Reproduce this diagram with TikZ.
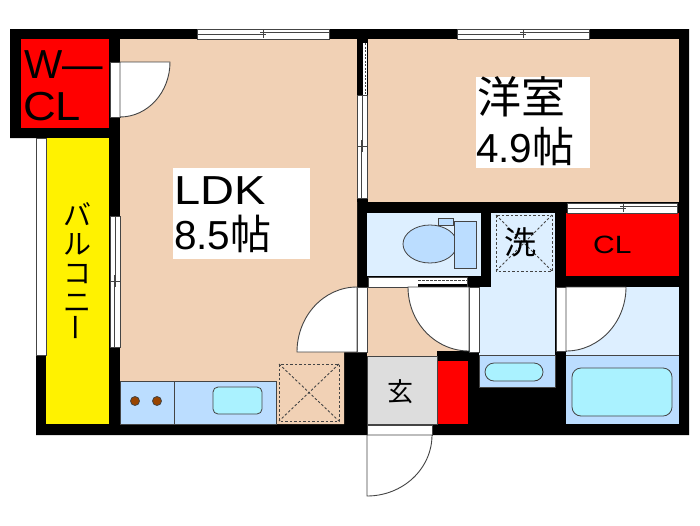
\documentclass[tikz,border=0pt]{standalone}
\usepackage{fontspec}
\setmainfont{Liberation Sans}
\newfontfamily\jpfont{Noto Sans CJK JP}

\definecolor{floorpeach}{HTML}{F1D1B5}
\definecolor{wetpale}{HTML}{DDEFFF}
\definecolor{wetblue}{HTML}{BBDDFF}
\definecolor{tubcyan}{HTML}{AAF2FF}
\definecolor{hallgray}{HTML}{DDDDDD}
\definecolor{burnerbrown}{HTML}{994400}
\definecolor{edgegray}{HTML}{444444}

\tikzset{
  wall/.style={fill=black, draw=none},
  room/.style={fill=#1, draw=none},
  fixture/.style={fill=#1, draw=edgegray, line width=0.8pt},
  leaf/.style={fill=white, draw=edgegray, line width=0.9pt},
  pane/.style={fill=white, draw=edgegray, line width=0.8pt},
  sash/.style={draw=edgegray, line width=0.7pt},
  spot/.style={draw=edgegray, line width=0.9pt, dashed, dash pattern=on 2.5pt off 2pt},
  biglabel/.style={inner sep=0pt, anchor=base west, font=\fontsize{40.5}{40.5}\selectfont},
}

% x1 x2 y1 y2 tick
\newcommand{\hslide}[5]{
  \draw[pane] (#1,#3) rectangle (#2,#4);
  \draw[sash] (#1,{#3+5}) -- ({#5+3},{#3+5}) ({#5-3},{#3+3.5}) -- (#2,{#3+3.5});
  \draw[sash] (#5,{#3+1}) -- (#5,{#4-1});
}
% x1 x2 y1 y2 tick
\newcommand{\vslide}[5]{
  \draw[pane] (#1,#3) rectangle (#2,#4);
  \draw[sash] ({#1+5.5},#3) -- ({#1+5.5},{#5+6}) ({#1+4},{#5-6}) -- ({#1+4},#4);
  \draw[sash] (#1,#5) -- (#2,#5);
}

\begin{document}
\begin{tikzpicture}[x=1pt, y=-1pt]
\useasboundingbox[fill=white] (0,0) rectangle (700,525);

% walls
\fill[wall] (10,29) -- (689,29) -- (689,435) -- (36,435) -- (36,138) -- (10,138) -- cycle;

% rooms
\fill[room=floorpeach] (120,39) -- (357,39) -- (357,352) -- (344,352) -- (344,424) -- (276,424) -- (276,381) -- (120,381) -- cycle;
\fill[room=floorpeach] (368,39) rectangle (679,202);
\fill[room=floorpeach] (367,287) rectangle (469,356);
\fill[room=red] (21,39) rectangle (109,128);
\fill[room=yellow] (46,138) rectangle (109,424);
\fill[wall] (357,39) rectangle (368,202);
\fill[wall] (437,351) rectangle (479,435);
\fill[room=red] (437,361) rectangle (468,424);
\fill[room=red] (566,213) rectangle (679,276);
\draw[fixture=hallgray] (367,356) rectangle (437,424);
\fill[room=wetpale] (367,213) rectangle (481,276);
\fill[room=wetpale] (491,213) rectangle (555,287);
\fill[room=wetpale] (479,287) rectangle (555,355);
\fill[room=wetpale] (566,287) rectangle (679,355);
\draw[fixture=wetblue] (479,355) -- (555,355) -- (555,387) -- (479,387) -- cycle;
\draw[fixture=wetblue, draw=none] (566,355) rectangle (679,424);
\draw[edgegray, line width=0.8pt] (566,355) -- (679,355);

% balcony side rail
\draw[pane] (36,138) rectangle (46,355);

% windows
\hslide{197}{329}{29}{39}{263}
\hslide{457}{589}{29}{39}{523}
\hslide{567}{677}{203}{213}{623}
\vslide{357}{367}{95}{198}{146}
\vslide{110}{120}{216}{347}{281}
\fill[white] (363,43) rectangle (367,95);
\draw[sash, dashed, dash pattern=on 2pt off 1.5pt] (365,43) -- (365,95);

% toilet door strip
\draw[pane] (368,277) rectangle (467,287);
\fill[wall] (418,284) rectangle (467,287);
\draw[sash, dashed, dash pattern=on 2.5pt off 1.5pt] (418,280) -- (467,280);

% door strips
\draw[pane] (110,62) rectangle (120,117);
\draw[pane] (357,287) rectangle (367,352);
\draw[pane] (469,287) rectangle (479,352);
\draw[pane] (556,287) rectangle (566,351);
\draw[pane] (367,425) rectangle (432,435);

% door leaves
\draw[leaf] (120,62) -- (170,62) arc[start angle=0, end angle=90, x radius=50, y radius=55] -- cycle;
\draw[leaf] (357,352) -- (297,352) arc[start angle=180, end angle=270, x radius=60, y radius=65] -- cycle;
\draw[leaf] (469,287) -- (408,287) arc[start angle=180, end angle=90, x radius=61, y radius=64] -- cycle;
\draw[leaf] (566,287) -- (626,287) arc[start angle=0, end angle=90, x radius=60, y radius=64] -- cycle;
\draw[leaf] (367,435) -- (367,496) arc[start angle=90, end angle=0, x radius=65, y radius=61] -- cycle;

% kitchen
\draw[fixture=wetblue] (120,381) rectangle (174,424);
\draw[fixture=wetblue] (174,381) rectangle (276,424);
\draw[fixture=burnerbrown] (135,401) circle (4.5);
\draw[fixture=burnerbrown] (157,401) circle (4.5);
\draw[fixture=tubcyan, rounded corners=5pt] (213,387) rectangle (262,414);
\draw[spot] (279,364) rectangle (339,421);
\draw[spot] (279,364) -- (339,421) (339,364) -- (279,421);

% toilet
\draw[fixture=wetblue] (430,244) ellipse (27 and 19);
\draw[fixture=wetblue] (438,218) rectangle (453,225);
\draw[fixture=wetblue] (454,221) rectangle (476,268);

% laundry
\draw[spot] (496,215) rectangle (552,271);
\draw[spot] (496,215) -- (552,271) (552,215) -- (496,271);

% bath and basin
\draw[fixture=tubcyan, rounded corners=9pt] (485,363) rectangle (543,381);
\draw[fixture=tubcyan, rounded corners=9pt] (572,368) rectangle (672,416);

% labels
\fill[white] (173,168) rectangle (310,259);
\fill[white] (476,77) rectangle (590,168);
\node[biglabel] (ldkname) at (174,204) {\scalebox{1.16}[1]{LDK}};
\node[biglabel] (ldksize) at (174,249) {8.5{\jpfont\fontsize{41}{41}\selectfont 帖}};
\node[biglabel, anchor=center] (yoshitsu) at (521,97) {\jpfont\fontsize{44}{44}\selectfont 洋室};
\node[biglabel] (yoshitsusize) at (476,162) {4.9{\jpfont\fontsize{42}{42}\selectfont 帖}};
\node[biglabel] (wcltop) at (24,78) {W—};
\node[biglabel] (wclbottom) at (23,120) {\scalebox{1.12}[1]{CL}};
\node[inner sep=0pt, anchor=base west, font=\fontsize{25}{25}\selectfont] (clname) at (593,253) {\scalebox{1.2}[1]{CL}};
\node[inner sep=0pt, font=\jpfont\fontsize{32}{32}\selectfont] (sentaku) at (520,242) {洗};
\node[inner sep=0pt, font=\jpfont\fontsize{26}{26}\selectfont] (genkan) at (400,392) {玄};
\node[inner sep=0pt, align=center, font=\jpfont\fontsize{28}{29}\selectfont] (balcony) at (77,272) {バ\\ル\\コ\\ニ\\\kern7pt\rotatebox{90}{ー}};
\end{tikzpicture}
\end{document}
